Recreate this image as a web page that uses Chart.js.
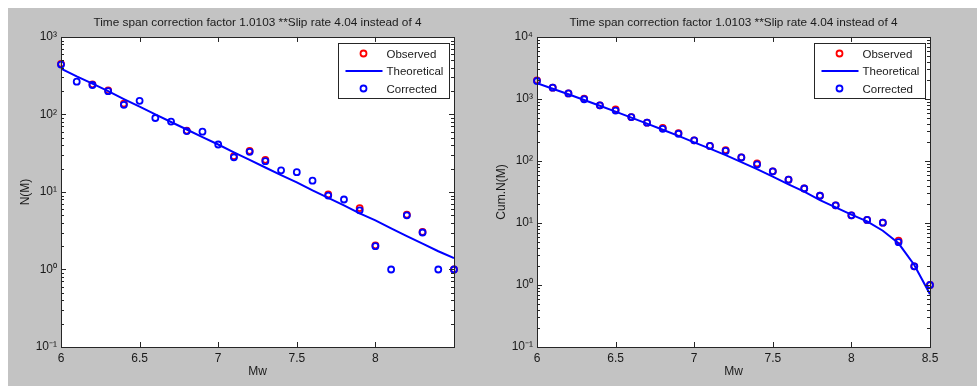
<!DOCTYPE html>
<html>
<head>
<meta charset="utf-8">
<script src="https://cdn.jsdelivr.net/npm/chart.js@4/dist/chart.umd.min.js"></script>
<style>
	html, body { margin: 0; padding: 0; background: #fff; overflow: hidden; }
	#frame { position: absolute; left: 8px; top: 8px; width: 969px; height: 378px; background: #c3c3c3; }
	.panel { position: absolute; top: 8px; height: 378px; }
	#left { left: 8px; width: 480px; }
	#right { left: 488px; width: 489px; }
</style>
</head>
<body>
<div id="frame"></div>
<div class="panel" id="left"><canvas id="c1"></canvas></div>
<div class="panel" id="right"><canvas id="c2"></canvas></div>
<script>
// magnitude bins
const mw = [6.0, 6.1, 6.2, 6.3, 6.4, 6.5, 6.6, 6.7, 6.8, 6.9, 7.0, 7.1, 7.2, 7.3, 7.4, 7.5, 7.6, 7.7, 7.8, 7.9, 8.0, 8.1, 8.2, 8.3, 8.4, 8.5];

const titleText = 'Time span correction factor 1.0103 **Slip rate 4.04 instead of 4';

// incremental N(M), null = no observed events in the bin
const nObserved = [450, null, 245, 205, 138, null, null, null, 62, null, null, 29, 34, 26, null, null, null, 9.3, null, 6.2, 2.05, null, 5.1, 3.05, null, 1];
const nTheoretical = [390, 310, 250, 200, 158, 126, 100, 80, 64, 51, 41, 32.5, 26, 20.7, 16.5, 13.3, 10.5, 8.4, 6.7, 5.3, 4.3, 3.4, 2.7, 2.15, 1.72, 1.4];
const nCorrected = [440, 265, 240, 200, 133, 150, 90, 81, 61, 60, 41, 28, 33, 25, 19, 18, 14, 9, 8, 5.8, 2, 1, 5, 3, 1, 1];

// cumulative N(M)
const cumObserved = [2000, 1520, 1230, 1010, 790, 680, 510, 415, 340, 282, 215, 175, 150, 114, 91, 68, 50, 36, 27.5, 19.3, 13.3, 11.2, 10.1, 5.2, 2.0, 1.0];
const cumTheoretical = [1800, 1460, 1190, 962, 776, 624, 500, 400, 319, 254, 200, 158, 124, 96, 74, 56, 42, 32, 23.4, 17.8, 13.6, 10.6, 7.5, 4.7, 2.1, 0.71];
const cumCorrected = [1950, 1520, 1230, 990, 790, 650, 510, 415, 330, 275, 215, 175, 145, 114, 88, 68, 50, 36, 27.5, 19.3, 13.3, 11.2, 10.1, 4.9, 2.0, 1.0];

const xTicksLeft = [6, 6.5, 7, 7.5, 8];
const xTicksRight = [6, 6.5, 7, 7.5, 8, 8.5];
const yTicksLeft = [0.1, 1, 10, 100, 1000];
const yTicksRight = [0.1, 1, 10, 100, 1000, 10000];
const yTickNames = ['10⁻¹', '10⁰', '10¹', '10²', '10³', '10⁴'];

const textColor = '#1a1a1a';
const axisColor = '#262626';

Chart.defaults.font.family = '"Liberation Sans", Arial, sans-serif';
Chart.defaults.font.size = 12;
Chart.defaults.color = textColor;

function toPoints(values) {
	return mw.map((x, i) => ({ x: x, y: values[i] }));
}

// white plot box, inward ticks, box frame and legend like matlab axes
const matlabAxes = {
	id: 'matlabAxes',
	beforeDraw(chart) {
		const { ctx, chartArea: a } = chart;
		ctx.save();
		ctx.fillStyle = '#fff';
		ctx.fillRect(a.left, a.top, a.width, a.height);
		ctx.restore();
	},
	afterDraw(chart) {
		const { ctx, chartArea: a, scales: { x, y } } = chart;
		ctx.save();
		ctx.strokeStyle = axisColor;
		ctx.lineWidth = 1;
		ctx.beginPath();
		x.ticks.forEach((t) => {
			const px = Math.round(x.getPixelForValue(t.value)) + 0.5;
			ctx.moveTo(px, a.bottom); ctx.lineTo(px, a.bottom - 5);
			ctx.moveTo(px, a.top); ctx.lineTo(px, a.top + 5);
		});
		const lo = Math.round(Math.log10(y.min));
		const hi = Math.round(Math.log10(y.max));
		for (let e = lo; e <= hi; e++) {
			for (let m = 1; m < 10; m++) {
				if (e === hi && m > 1) break;
				const py = Math.round(y.getPixelForValue(m * Math.pow(10, e))) + 0.5;
				const len = m === 1 ? 5 : 3;
				ctx.moveTo(a.left, py); ctx.lineTo(a.left + len, py);
				ctx.moveTo(a.right, py); ctx.lineTo(a.right - len, py);
			}
		}
		ctx.stroke();
		ctx.strokeRect(Math.round(a.left) + 0.5, Math.round(a.top) + 0.5, Math.round(a.width), Math.round(a.height));

		// legend
		const w = 111, h = 55;
		const bx = Math.round(a.right) - 5 - w + 0.5;
		const by = Math.round(a.top) + 6 + 0.5;
		ctx.fillStyle = '#fff';
		ctx.fillRect(bx, by, w, h);
		ctx.strokeRect(bx, by, w, h);
		ctx.font = '11.5px "Liberation Sans", Arial, sans-serif';
		ctx.textBaseline = 'middle';
		chart.data.datasets.forEach((ds, i) => {
			const ry = by + 10 + i * 17.5;
			if (ds.showLine) {
				ctx.strokeStyle = ds.borderColor;
				ctx.lineWidth = 2;
				ctx.beginPath();
				ctx.moveTo(bx + 7, ry); ctx.lineTo(bx + 44, ry);
				ctx.stroke();
			} else {
				ctx.strokeStyle = ds.borderColor;
				ctx.lineWidth = 1.8;
				ctx.beginPath();
				ctx.arc(bx + 25, ry, 3, 0, Math.PI * 2);
				ctx.stroke();
			}
			ctx.fillStyle = textColor;
			ctx.fillText(ds.label, bx + 48, ry + 1);
		});
		ctx.restore();
	}
};

function makeChart(canvas, cfg) {
	const markers = { pointStyle: 'circle', pointRadius: 3, pointBorderWidth: 1.8, pointBackgroundColor: 'rgba(0,0,0,0)', showLine: false, clip: false };
	return new Chart(canvas.getContext('2d'), {
		type: 'scatter',
		data: {
			datasets: [
				{ label: 'Observed', data: toPoints(cfg.observed), borderColor: '#ff0000', order: 3, ...markers },
				{ label: 'Theoretical', data: toPoints(cfg.theoretical), borderColor: '#0000ff', borderWidth: 2, showLine: true, pointRadius: 0, tension: 0, order: 2 },
				{ label: 'Corrected', data: toPoints(cfg.corrected), borderColor: '#0000ff', order: 1, ...markers }
			]
		},
		options: {
			responsive: true,
			maintainAspectRatio: false,
			animation: false,
			events: [],
			layout: { padding: { left: 0, right: cfg.rightPad, top: 0, bottom: 0 } },
			plugins: {
				legend: { display: false },
				tooltip: { enabled: false },
				title: {
					display: true,
					text: titleText,
					fullSize: false,
					color: textColor,
					font: { size: 11.8, weight: 'normal' },
					padding: { top: 8, bottom: 6.8 }
				}
			},
			scales: {
				x: {
					type: 'linear',
					min: 6,
					max: 8.5,
					afterBuildTicks: (s) => { s.ticks = cfg.xTicks.map((v) => ({ value: v })); },
					afterFit: (s) => { s.height = 39; },
					grid: { display: false, drawTicks: false },
					border: { display: false },
					ticks: { padding: 4, maxRotation: 0, autoSkip: false, color: textColor, callback: (v) => String(v) },
					title: { display: true, text: 'Mw', color: textColor, padding: { top: 0, bottom: 7 } }
				},
				y: {
					type: 'logarithmic',
					min: cfg.yTicks[0],
					max: cfg.yTicks[cfg.yTicks.length - 1],
					afterBuildTicks: (s) => { s.ticks = cfg.yTicks.map((v) => ({ value: v })); },
					afterFit: (s) => { s.width = cfg.yWidth; },
					grid: { display: false, drawTicks: false },
					border: { display: false },
					ticks: { padding: 4, autoSkip: false, color: textColor, callback: (v) => yTickNames[Math.round(Math.log10(v)) + 1] },
					title: { display: true, text: cfg.yTitle, color: textColor, padding: { top: cfg.yTitlePad, bottom: 0 } }
				}
			}
		},
		plugins: [matlabAxes]
	});
}

makeChart(document.getElementById('c1'), {
	observed: nObserved,
	theoretical: nTheoretical,
	corrected: nCorrected,
	xTicks: xTicksLeft,
	yTicks: yTicksLeft,
	yTitle: 'N(M)',
	yWidth: 53,
	yTitlePad: 10,
	rightPad: 34
});

makeChart(document.getElementById('c2'), {
	observed: cumObserved,
	theoretical: cumTheoretical,
	corrected: cumCorrected,
	xTicks: xTicksRight,
	yTicks: yTicksRight,
	yTitle: 'Cum.N(M)',
	yWidth: 49,
	yTitlePad: 6,
	rightPad: 47
});
</script>
</body>
</html>
